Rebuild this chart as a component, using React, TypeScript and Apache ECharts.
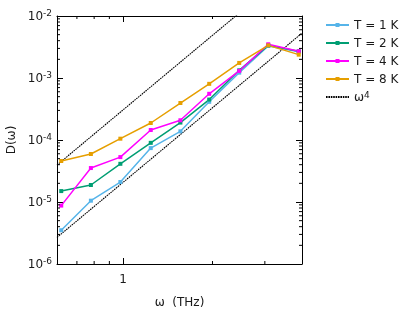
import React, { useEffect, useRef } from 'react';
import * as echarts from 'echarts';

// Frequencies (THz) of the data points
const omega = [0.62, 0.78, 0.98, 1.24, 1.56, 1.95, 2.46, 3.08, 3.9];
// D(ω) for each temperature
const dT1 = [3.5e-6, 1.05e-5, 2.1e-5, 7.4e-5, 1.38e-4, 4.13e-4, 1.22e-3, 3.28e-3, 2.65e-3];
const dT2 = [1.5e-5, 1.88e-5, 4.13e-5, 9.0e-5, 1.91e-4, 4.49e-4, 1.33e-3, 3.36e-3, 2.7e-3];
const dT4 = [8.75e-6, 3.53e-5, 5.3e-5, 1.45e-4, 2.08e-4, 5.56e-4, 1.3e-3, 3.5e-3, 2.7e-3];
const dT8 = [4.58e-5, 5.94e-5, 1.05e-4, 1.88e-4, 3.95e-4, 8.05e-4, 1.75e-3, 3.36e-3, 2.38e-3];
// ω^4 guide lines (end points)
const refX = [0.6, 4];
const refUpper = [3.95e-5, 7.8e-2];
const refLower = [2.68e-6, 5.3e-3];

const seriesNames = ['T = 1 K', 'T = 2 K', 'T = 4 K', 'T = 8 K'];
const seriesColors = ['#56B4E9', '#009E73', '#FF00FF', '#E69F00'];
const refName = 'ω4';

const xMin = 0.6;
const xMax = 4;
const yMin = 1e-6;
const yMax = 1e-2;
const xMinorTicks = [0.7, 0.8, 0.9, 2, 3];
const yDecades = [-6, -5, -4, -3];
const yMinorMantissas = [2, 3, 4, 5, 6, 7, 8, 9];

const FONT = 'DejaVu Sans';
const TEXT = '#1a1a1a';

export default function App() {
  const ref = useRef<HTMLDivElement>(null);
  useEffect(() => {
    if (!ref.current) return;
    const chart = echarts.init(ref.current, null, { renderer: 'svg' });
    const allD = [dT1, dT2, dT4, dT8];

    const tickData: number[][] = [];
    xMinorTicks.forEach((v) => tickData.push([v, 1e-4, 0]));
    yDecades.forEach((e) =>
      yMinorMantissas.forEach((m) => tickData.push([1, m * Math.pow(10, e), 1]))
    );

    const tickLen = 3;
    const minorSeries = {
      type: 'custom',
      name: 'minorTicks',
      silent: true,
      clip: false,
      encode: { x: 0, y: 1 },
      data: tickData,
      renderItem: (params: any, api: any) => {
        const cs = params.coordSys;
        const kind = api.value(2);
        const st = { stroke: '#000', lineWidth: 1 };
        if (kind === 0) {
          const px = api.coord([api.value(0), 1e-4])[0];
          return {
            type: 'group',
            children: [
              { type: 'line', shape: { x1: px, y1: cs.y + cs.height, x2: px, y2: cs.y + cs.height - tickLen }, style: st },
              { type: 'line', shape: { x1: px, y1: cs.y, x2: px, y2: cs.y + tickLen }, style: st },
            ],
          };
        }
        const py = api.coord([1, api.value(1)])[1];
        return {
          type: 'group',
          children: [
            { type: 'line', shape: { x1: cs.x, y1: py, x2: cs.x + tickLen, y2: py }, style: st },
            { type: 'line', shape: { x1: cs.x + cs.width, y1: py, x2: cs.x + cs.width - tickLen, y2: py }, style: st },
          ],
        };
      },
      z: 5,
    };

    const dataSeries = seriesNames.map((name, i) => ({
      type: 'line',
      name,
      data: omega.map((x, j) => [x, allD[i][j]]),
      symbol: 'rect',
      symbolSize: 4,
      showSymbol: true,
      lineStyle: { color: seriesColors[i], width: 1.5 },
      itemStyle: { color: seriesColors[i] },
      z: 3,
    }));

    const refSeries = [refUpper, refLower].map((vals) => ({
      type: 'line',
      name: refName,
      data: refX.map((x, j) => [x, vals[j]]),
      symbol: 'none',
      lineStyle: { color: '#000', width: 1.1, type: [1.6, 0.8] },
      itemStyle: { color: '#000' },
      clip: true,
      z: 2,
    }));

    const axisCommon = {
      axisLine: { show: true, lineStyle: { color: '#000', width: 1 } },
      axisTick: { show: true, inside: true, length: 6, lineStyle: { color: '#000' } },
      splitLine: { show: false },
      minorTick: { show: false },
    };

    chart.setOption({
      animation: false,
      grid: { left: 57, top: 16, width: 245, height: 248, outerBoundsMode: 'none', containLabel: false },
      legend: {
        orient: 'vertical',
        left: 320,
        top: 13,
        itemWidth: 23,
        itemHeight: 5,
        itemGap: 4,
        data: [
          ...seriesNames.map((n) => ({ name: n })),
          { name: refName, itemStyle: { color: 'rgba(0,0,0,0)', borderWidth: 0 } },
        ],
        formatter: (name: string) => (name === refName ? 'ω{sup|4}' : name),
        textStyle: {
          fontFamily: FONT,
          fontSize: 12,
          color: TEXT,
          lineHeight: 14,
          rich: {
            sup: { fontFamily: FONT, fontSize: 9, lineHeight: 9, verticalAlign: 'top', color: TEXT },
          },
        },
      },
      xAxis: [
        {
          type: 'log',
          logBase: 10,
          min: xMin,
          max: xMax,
          position: 'bottom',
          name: 'ω  (THz)',
          nameLocation: 'middle',
          nameGap: 32,
          nameTextStyle: { fontFamily: FONT, fontSize: 12, color: TEXT },
          ...axisCommon,
          axisLabel: {
            show: true,
            margin: 9,
            fontFamily: FONT,
            fontSize: 12,
            color: TEXT,
            showMinLabel: false,
            showMaxLabel: false,
            formatter: (v: number) => (Math.abs(v - 1) < 1e-9 ? '1' : ''),
          },
        },
        {
          type: 'log',
          logBase: 10,
          min: xMin,
          max: xMax,
          position: 'top',
          ...axisCommon,
          axisLabel: { show: false },
        },
      ],
      yAxis: [
        {
          type: 'log',
          logBase: 10,
          min: yMin,
          max: yMax,
          position: 'left',
          name: 'D(ω)',
          nameLocation: 'middle',
          nameGap: 40,
          nameTextStyle: { fontFamily: FONT, fontSize: 12, color: TEXT },
          ...axisCommon,
          axisLabel: {
            show: true,
            margin: 5,
            fontFamily: FONT,
            fontSize: 12,
            color: TEXT,
            formatter: (v: number) => '{base|10}{sup|' + Math.round(Math.log10(v)) + '}',
            rich: {
              base: { fontFamily: FONT, fontSize: 12, lineHeight: 16, color: TEXT },
              sup: { fontFamily: FONT, fontSize: 9, lineHeight: 9, verticalAlign: 'top', color: TEXT },
            },
          },
        },
        {
          type: 'log',
          logBase: 10,
          min: yMin,
          max: yMax,
          position: 'right',
          ...axisCommon,
          axisLabel: { show: false },
        },
      ],
      series: [...dataSeries, ...refSeries, minorSeries],
    });
    return () => chart.dispose();
  }, []);
  return <div ref={ref} style={{ position: 'fixed', left: 0, top: 0, width: 415, height: 312 }} />;
}
